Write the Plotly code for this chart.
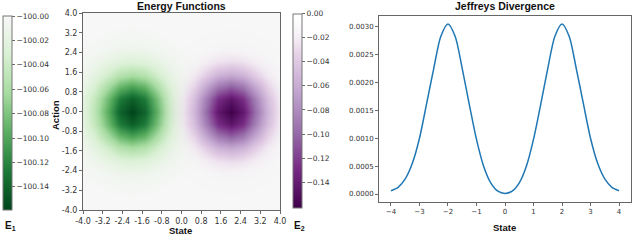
import plotly.graph_objects as go

W, H = 640, 252

# ---------------- data ----------------
states = [-4.0, -3.5, -3.0, -2.5, -2.0, -1.5, -1.0, -0.5, 0.0, 0.5, 1.0, 1.5, 2.0, 2.5, 3.0, 3.5, 4.0]
actions = [-4.0, -3.5, -3.0, -2.5, -2.0, -1.5, -1.0, -0.5, 0.0, 0.5, 1.0, 1.5, 2.0, 2.5, 3.0, 3.5, 4.0]

# E1(state, action): rows = actions (-4 .. 4), columns = states (-4 .. 4)
E1 = [
    [-100.0, -100.0001, -100.0001, -100.0001, -100.0002, -100.0001, -100.0001, -100.0001, -100.0, -100.0, -100.0, -100.0, -100.0, -100.0, -100.0, -100.0, -100.0],
    [-100.0001, -100.0003, -100.0005, -100.0007, -100.0008, -100.0007, -100.0005, -100.0003, -100.0001, -100.0, -100.0, -100.0, -100.0, -100.0, -100.0, -100.0, -100.0],
    [-100.0005, -100.0011, -100.0020, -100.0030, -100.0034, -100.0030, -100.0020, -100.0011, -100.0005, -100.0001, -100.0, -100.0, -100.0, -100.0, -100.0, -100.0, -100.0],
    [-100.0015, -100.0035, -100.0066, -100.0096, -100.0109, -100.0096, -100.0066, -100.0035, -100.0015, -100.0005, -100.0001, -100.0, -100.0, -100.0, -100.0, -100.0, -100.0],
    [-100.0039, -100.0093, -100.0174, -100.0253, -100.0286, -100.0253, -100.0174, -100.0093, -100.0039, -100.0013, -100.0003, -100.0001, -100.0, -100.0, -100.0, -100.0, -100.0],
    [-100.0082, -100.0197, -100.0368, -100.0535, -100.0606, -100.0535, -100.0368, -100.0197, -100.0082, -100.0027, -100.0007, -100.0001, -100.0, -100.0, -100.0, -100.0, -100.0],
    [-100.0140, -100.0336, -100.0628, -100.0914, -100.1036, -100.0914, -100.0628, -100.0336, -100.0140, -100.0046, -100.0012, -100.0002, -100.0, -100.0, -100.0, -100.0, -100.0],
    [-100.0193, -100.0464, -100.0866, -100.1261, -100.1428, -100.1261, -100.0866, -100.0464, -100.0193, -100.0063, -100.0016, -100.0003, -100.0, -100.0, -100.0, -100.0, -100.0],
    [-100.0215, -100.0516, -100.0964, -100.1403, -100.1590, -100.1403, -100.0964, -100.0516, -100.0215, -100.0070, -100.0018, -100.0003, -100.0001, -100.0, -100.0, -100.0, -100.0],
    [-100.0193, -100.0464, -100.0866, -100.1261, -100.1428, -100.1261, -100.0866, -100.0464, -100.0193, -100.0063, -100.0016, -100.0003, -100.0, -100.0, -100.0, -100.0, -100.0],
    [-100.0140, -100.0336, -100.0628, -100.0914, -100.1036, -100.0914, -100.0628, -100.0336, -100.0140, -100.0046, -100.0012, -100.0002, -100.0, -100.0, -100.0, -100.0, -100.0],
    [-100.0082, -100.0197, -100.0368, -100.0535, -100.0606, -100.0535, -100.0368, -100.0197, -100.0082, -100.0027, -100.0007, -100.0001, -100.0, -100.0, -100.0, -100.0, -100.0],
    [-100.0039, -100.0093, -100.0174, -100.0253, -100.0286, -100.0253, -100.0174, -100.0093, -100.0039, -100.0013, -100.0003, -100.0001, -100.0, -100.0, -100.0, -100.0, -100.0],
    [-100.0015, -100.0035, -100.0066, -100.0096, -100.0109, -100.0096, -100.0066, -100.0035, -100.0015, -100.0005, -100.0001, -100.0, -100.0, -100.0, -100.0, -100.0, -100.0],
    [-100.0005, -100.0011, -100.0020, -100.0030, -100.0034, -100.0030, -100.0020, -100.0011, -100.0005, -100.0001, -100.0, -100.0, -100.0, -100.0, -100.0, -100.0, -100.0],
    [-100.0001, -100.0003, -100.0005, -100.0007, -100.0008, -100.0007, -100.0005, -100.0003, -100.0001, -100.0, -100.0, -100.0, -100.0, -100.0, -100.0, -100.0, -100.0],
    [-100.0, -100.0001, -100.0001, -100.0001, -100.0002, -100.0001, -100.0001, -100.0001, -100.0, -100.0, -100.0, -100.0, -100.0, -100.0, -100.0, -100.0, -100.0],
]

# E2(state, action): rows = actions (-4 .. 4), columns = states (-4 .. 4)
E2 = [
    [0.0, 0.0, 0.0, 0.0, 0.0, 0.0, 0.0, 0.0, 0.0, -0.0001, -0.0001, -0.0001, -0.0002, -0.0001, -0.0001, -0.0001, 0.0],
    [0.0, 0.0, 0.0, 0.0, 0.0, 0.0, 0.0, 0.0, -0.0001, -0.0003, -0.0005, -0.0007, -0.0008, -0.0007, -0.0005, -0.0003, -0.0001],
    [0.0, 0.0, 0.0, 0.0, 0.0, 0.0, 0.0, -0.0001, -0.0005, -0.0011, -0.0021, -0.0030, -0.0034, -0.0030, -0.0021, -0.0011, -0.0005],
    [0.0, 0.0, 0.0, 0.0, 0.0, 0.0, -0.0001, -0.0005, -0.0015, -0.0036, -0.0067, -0.0098, -0.0110, -0.0098, -0.0067, -0.0036, -0.0015],
    [0.0, 0.0, 0.0, 0.0, 0.0, -0.0001, -0.0003, -0.0013, -0.0039, -0.0094, -0.0176, -0.0256, -0.0290, -0.0256, -0.0176, -0.0094, -0.0039],
    [0.0, 0.0, 0.0, 0.0, 0.0, -0.0001, -0.0007, -0.0027, -0.0083, -0.0199, -0.0372, -0.0542, -0.0614, -0.0542, -0.0372, -0.0199, -0.0083],
    [0.0, 0.0, 0.0, 0.0, 0.0, -0.0002, -0.0012, -0.0046, -0.0142, -0.0341, -0.0636, -0.0926, -0.1049, -0.0926, -0.0636, -0.0341, -0.0142],
    [0.0, 0.0, 0.0, 0.0, 0.0, -0.0003, -0.0016, -0.0064, -0.0196, -0.0470, -0.0877, -0.1276, -0.1446, -0.1276, -0.0877, -0.0470, -0.0196],
    [0.0, 0.0, 0.0, 0.0, -0.0001, -0.0004, -0.0018, -0.0071, -0.0218, -0.0523, -0.0977, -0.1421, -0.1610, -0.1421, -0.0977, -0.0523, -0.0218],
    [0.0, 0.0, 0.0, 0.0, 0.0, -0.0003, -0.0016, -0.0064, -0.0196, -0.0470, -0.0877, -0.1276, -0.1446, -0.1276, -0.0877, -0.0470, -0.0196],
    [0.0, 0.0, 0.0, 0.0, 0.0, -0.0002, -0.0012, -0.0046, -0.0142, -0.0341, -0.0636, -0.0926, -0.1049, -0.0926, -0.0636, -0.0341, -0.0142],
    [0.0, 0.0, 0.0, 0.0, 0.0, -0.0001, -0.0007, -0.0027, -0.0083, -0.0199, -0.0372, -0.0542, -0.0614, -0.0542, -0.0372, -0.0199, -0.0083],
    [0.0, 0.0, 0.0, 0.0, 0.0, -0.0001, -0.0003, -0.0013, -0.0039, -0.0094, -0.0176, -0.0256, -0.0290, -0.0256, -0.0176, -0.0094, -0.0039],
    [0.0, 0.0, 0.0, 0.0, 0.0, 0.0, -0.0001, -0.0005, -0.0015, -0.0036, -0.0067, -0.0098, -0.0110, -0.0098, -0.0067, -0.0036, -0.0015],
    [0.0, 0.0, 0.0, 0.0, 0.0, 0.0, 0.0, -0.0001, -0.0005, -0.0011, -0.0021, -0.0030, -0.0034, -0.0030, -0.0021, -0.0011, -0.0005],
    [0.0, 0.0, 0.0, 0.0, 0.0, 0.0, 0.0, 0.0, -0.0001, -0.0003, -0.0005, -0.0007, -0.0008, -0.0007, -0.0005, -0.0003, -0.0001],
    [0.0, 0.0, 0.0, 0.0, 0.0, 0.0, 0.0, 0.0, 0.0, -0.0001, -0.0001, -0.0001, -0.0002, -0.0001, -0.0001, -0.0001, 0.0],
]

e1_range = [-100.159, -100.0]
e2_range = [-0.161, 0.0]
e1_ticks = [-100.00, -100.02, -100.04, -100.06, -100.08, -100.10, -100.12, -100.14]
e1_ticktext = ["\u2212100.00", "\u2212100.02", "\u2212100.04", "\u2212100.06",
               "\u2212100.08", "\u2212100.10", "\u2212100.12", "\u2212100.14"]
e2_ticks = [0.0, -0.02, -0.04, -0.06, -0.08, -0.10, -0.12, -0.14]
e2_ticktext = ["0.00", "\u22120.02", "\u22120.04", "\u22120.06",
               "\u22120.08", "\u22120.10", "\u22120.12", "\u22120.14"]

grid_ticks = [-4.0, -3.2, -2.4, -1.6, -0.8, 0.0, 0.8, 1.6, 2.4, 3.2, 4.0]
grid_xticktext = ["-4.0", "-3.2", "-2.4", "-1.6", "-0.8", "0.0", "0.8", "1.6", "2.4", "3.2", "4.0"]
grid_yticktext = ["-4.0", "-3.2", "-2.4", "-1.6", "-0.8", "-0.0", "0.8", "1.6", "2.4", "3.2", "4.0"]

div_states = [-4.0, -3.75, -3.5, -3.25, -3.0, -2.75, -2.5, -2.25, -2.0, -1.75, -1.5, -1.25,
              -1.0, -0.75, -0.5, -0.25, 0.0, 0.25, 0.5, 0.75, 1.0, 1.25, 1.5, 1.75,
              2.0, 2.25, 2.5, 2.75, 3.0, 3.25, 3.5, 3.75, 4.0]
div_values = [0.00006, 0.00012, 0.00027, 0.00055, 0.00100, 0.00162, 0.00225, 0.00283, 0.00305,
              0.00283, 0.00225, 0.00160, 0.00098, 0.00050, 0.00020, 0.00005, 0.00001,
              0.00005, 0.00020, 0.00050, 0.00098, 0.00160, 0.00225, 0.00283, 0.00305,
              0.00283, 0.00225, 0.00162, 0.00100, 0.00055, 0.00027, 0.00012, 0.00006]
div_xticks = [-4, -3, -2, -1, 0, 1, 2, 3, 4]
div_xticktext = ["\u22124", "\u22123", "\u22122", "\u22121", "0", "1", "2", "3", "4"]
div_yticks = [0.0, 0.0005, 0.0010, 0.0015, 0.0020, 0.0025, 0.0030]
div_yticktext = ["0.0000", "0.0005", "0.0010", "0.0015", "0.0020", "0.0025", "0.0030"]

# ---------------- styling helpers ----------------
def px_x(p):
    return p / W

def px_y(p):
    return 1 - p / H

green_scale = [
    [0.0, "#00441b"], [0.2, "#1b7837"], [0.4, "#5aae61"],
    [0.6, "#a6dba0"], [0.8, "#d9f0d3"], [1.0, "#f7f7f7"],
]
purple_scale = [
    [0.0, "rgba(64,0,75,1)"], [0.2, "rgba(118,42,131,1)"], [0.4, "rgba(153,112,171,1)"],
    [0.6, "rgba(194,165,207,1)"], [0.8, "rgba(231,212,232,1)"], [1.0, "rgba(247,247,247,0)"],
]

TICKFONT = dict(family="DejaVu Sans", size=8, color="#333")
LABELFONT = dict(family="Liberation Sans", size=9.5, color="#111")
TITLEFONT = dict(family="Liberation Sans", size=10.5, color="#111")
FRAME = "#666"

def cbar(xpx, ycpx, tickvals, ticktext):
    return dict(
        x=px_x(xpx), xanchor="left", xpad=0,
        y=px_y(ycpx), yanchor="middle", ypad=0,
        len=194, lenmode="pixels", thickness=9, thicknessmode="pixels",
        outlinewidth=1, outlinecolor="#777",
        tickvals=tickvals, ticktext=ticktext, ticks="outside", ticklen=3,
        tickcolor="#444", tickwidth=0.8,
        tickfont=dict(family="DejaVu Sans", size=7.5, color="#333"),
    )

fig = go.Figure()

fig.add_trace(go.Heatmap(
    x=states, y=actions, z=E1, zmin=e1_range[0], zmax=e1_range[1],
    colorscale=green_scale, zsmooth="best",
    colorbar=cbar(2.5, 113, e1_ticks, e1_ticktext),
    xaxis="x", yaxis="y", hoverinfo="skip",
))
fig.add_trace(go.Heatmap(
    x=states, y=actions, z=E2, zmin=e2_range[0], zmax=e2_range[1],
    colorscale=purple_scale, zsmooth="best",
    colorbar=cbar(292.5, 110.5, e2_ticks, e2_ticktext),
    xaxis="x", yaxis="y", hoverinfo="skip",
))
fig.add_trace(go.Scatter(
    x=div_states, y=div_values, mode="lines",
    line=dict(color="#1f77b4", width=1.5, shape="spline", smoothing=0.8),
    xaxis="x2", yaxis="y2", showlegend=False, hoverinfo="skip",
))

axis_common = dict(
    showgrid=False, zeroline=False, showline=True, mirror=True, automargin=False,
    linecolor=FRAME, linewidth=1, ticks="outside", ticklen=3, tickwidth=0.8,
    tickcolor="#444", tickfont=TICKFONT,
)
small_font = dict(family="DejaVu Sans", size=7, color="#333")

fig.update_layout(
    template="none",
    width=W, height=H, margin=dict(l=0, r=0, t=0, b=0, pad=0, autoexpand=False),
    paper_bgcolor="white", plot_bgcolor="white", showlegend=False,
    xaxis=dict(domain=[px_x(83), px_x(280)], range=[-4, 4], anchor="y",
               tickmode="array", tickvals=grid_ticks, ticktext=grid_xticktext, **axis_common),
    yaxis=dict(domain=[px_y(210), px_y(13)], range=[-4, 4], anchor="x",
               tickmode="array", tickvals=grid_ticks, ticktext=grid_yticktext, **axis_common),
    xaxis2=dict(domain=[px_x(379), px_x(631)], range=[-4.42, 4.42], anchor="y2",
                tickmode="array", tickvals=div_xticks, ticktext=div_xticktext,
                **{**axis_common, "tickfont": small_font}),
    yaxis2=dict(domain=[px_y(202), px_y(16)], range=[-0.000143, 0.003192], anchor="x2",
                tickmode="array", tickvals=div_yticks, ticktext=div_yticktext,
                **{**axis_common, "tickfont": small_font}),
)

annotations = [
    dict(text="<b>Energy Functions</b>", x=px_x(181), y=px_y(6), font=TITLEFONT),
    dict(text="<b>Jeffreys Divergence</b>", x=px_x(504.5), y=px_y(5.5), font=TITLEFONT),
    dict(text="<b>State</b>", x=px_x(180), y=px_y(230), font=LABELFONT),
    dict(text="<b>State</b>", x=px_x(504.5), y=px_y(227), font=LABELFONT),
    dict(text="<b>Action</b>", x=px_x(56), y=px_y(115), font=LABELFONT, textangle=-90),
    dict(text="<b>E<sub>1</sub></b>", x=px_x(10), y=px_y(226), font=dict(family="Liberation Sans", size=10, color="#111")),
    dict(text="<b>E<sub>2</sub></b>", x=px_x(299.5), y=px_y(226), font=dict(family="Liberation Sans", size=10, color="#111")),
]
for a in annotations:
    a.update(xref="paper", yref="paper", showarrow=False, xanchor="center", yanchor="middle")
fig.update_layout(annotations=annotations)

fig.write_html(
    "out.html",
    config={"displayModeBar": False, "staticPlot": True},
    post_script="document.body.style.margin='0';document.body.style.padding='0';",
)
